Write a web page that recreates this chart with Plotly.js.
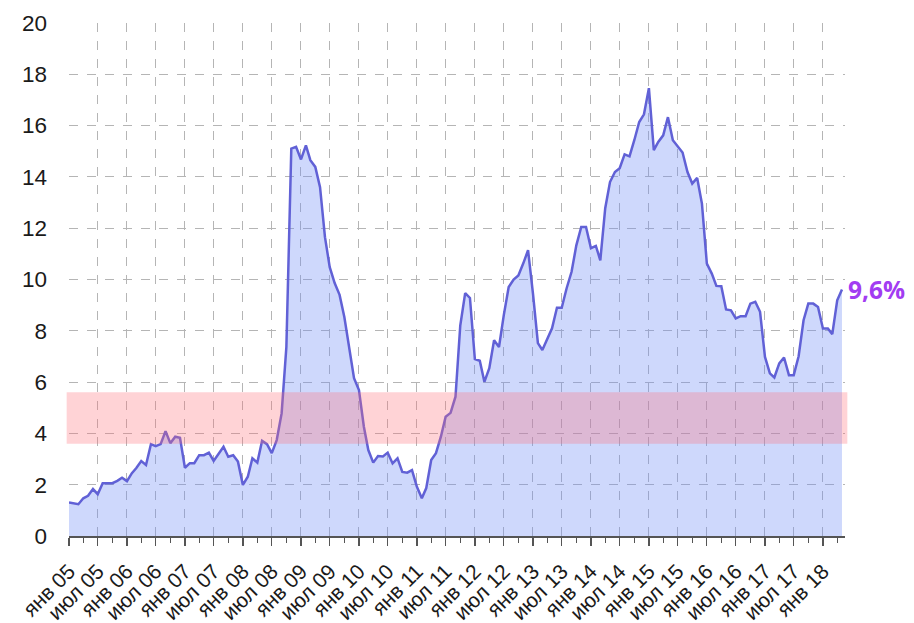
<!DOCTYPE html>
<html>
<head>
<meta charset="utf-8">
<script src="https://cdn.plot.ly/plotly-3.0.1.min.js"></script>
<style>
  html, body { margin: 0; padding: 0; background: #ffffff; }
  #chart { width: 914px; height: 623px; }
</style>
</head>
<body>
<div id="chart"></div>
<script>
// Monthly values, January 2005 .. May 2018
const startYear = 2005;
const values2005 = [1.31, 1.28, 1.24, 1.47, 1.57, 1.83, 1.63, 2.06, 2.06, 2.06, 2.15, 2.27];
const values2006 = [2.14, 2.45, 2.65, 2.92, 2.77, 3.58, 3.50, 3.58, 4.09, 3.62, 3.87, 3.83];
const values2007 = [2.66, 2.84, 2.84, 3.15, 3.15, 3.25, 2.93, 3.20, 3.48, 3.09, 3.15, 2.90];
const values2008 = [1.99, 2.31, 3.03, 2.86, 3.71, 3.58, 3.23, 3.74, 4.78, 7.37, 15.10, 15.17];
const values2009 = [14.68, 15.23, 14.65, 14.39, 13.60, 11.65, 10.48, 9.86, 9.40, 8.54, 7.37, 6.15];
const values2010 = [5.69, 4.26, 3.35, 2.86, 3.12, 3.10, 3.25, 2.83, 3.03, 2.50, 2.47, 2.57];
const values2011 = [1.92, 1.47, 1.87, 2.96, 3.23, 3.87, 4.65, 4.80, 5.43, 8.20, 9.47, 9.28];
const values2012 = [6.90, 6.83, 6.01, 6.54, 7.63, 7.37, 8.60, 9.71, 10.00, 10.16, 10.63, 11.14];
const values2013 = [9.45, 7.52, 7.25, 7.70, 8.10, 8.90, 8.90, 9.66, 10.30, 11.33, 12.05, 12.05];
const values2014 = [11.22, 11.31, 10.75, 12.78, 13.80, 14.19, 14.34, 14.88, 14.80, 15.43, 16.14, 16.44];
const values2015 = [17.46, 15.04, 15.36, 15.62, 16.33, 15.43, 15.17, 14.95, 14.19, 13.74, 13.96, 12.96];
const values2016 = [10.62, 10.23, 9.75, 9.74, 8.83, 8.80, 8.48, 8.57, 8.57, 9.06, 9.13, 8.74];
const values2017 = [6.98, 6.34, 6.18, 6.73, 6.96, 6.27, 6.27, 7.01, 8.41, 9.06, 9.06, 8.93];
const values2018 = [8.09, 8.09, 7.87, 9.19, 9.61];

const bandLow = 3.6;
const bandHigh = 5.6;
const lastLabel = "9,6%";

const tickLabels = [
  "янв 05","июл 05","янв 06","июл 06","янв 07","июл 07","янв 08","июл 08",
  "янв 09","июл 09","янв 10","июл 10","янв 11","июл 11","янв 12","июл 12",
  "янв 13","июл 13","янв 14","июл 14","янв 15","июл 15","янв 16","июл 16",
  "янв 17","июл 17","янв 18"
];

const values = [].concat(values2005, values2006, values2007, values2008, values2009,
  values2010, values2011, values2012, values2013, values2014, values2015,
  values2016, values2017, values2018);

function monthDate(i) {
  const y = startYear + Math.floor(i / 12);
  const m = (i % 12) + 1;
  return y + "-" + (m < 10 ? "0" + m : m) + "-01";
}
const dates = values.map((v, i) => monthDate(i));
const tickVals = tickLabels.map((t, k) => monthDate(k * 6));

const trace = {
  x: dates,
  y: values,
  type: "scatter",
  mode: "lines",
  line: { color: "#6161d6", width: 2.5 },
  fill: "tozeroy",
  fillcolor: "rgba(110,140,245,0.34)",
  hoverinfo: "skip"
};

const layout = {
  width: 914,
  height: 623,
  margin: { l: 69, r: 69, t: 23, b: 87 },
  paper_bgcolor: "#ffffff",
  plot_bgcolor: "#ffffff",
  showlegend: false,
  font: { family: "Liberation Sans, Arial, sans-serif", color: "#1a1a1a" },
  xaxis: {
    type: "date",
    range: ["2005-01-01", "2018-05-20"],
    tickmode: "array",
    tickvals: tickVals,
    ticktext: tickLabels,
    tickangle: -45,
    tickfont: { size: 21, color: "#1a1a1a" },
    ticks: "outside",
    ticklen: 8,
    tickwidth: 1.3,
    tickcolor: "#555555",
    ticklabelstandoff: 5,
    showline: true,
    linecolor: "#555555",
    linewidth: 1.8,
    showgrid: true,
    gridcolor: "#b5b5b5",
    griddash: "dash",
    gridwidth: 1,
    zeroline: false,
    minor: {
      tickmode: "linear",
      tick0: "2005-04-01",
      dtick: "M6",
      ticks: "outside",
      ticklen: 5,
      tickwidth: 1.3,
      tickcolor: "#555555",
      showgrid: false
    }
  },
  yaxis: {
    range: [0, 20],
    dtick: 2,
    tick0: 0,
    tickfont: { size: 22.5, color: "#1a1a1a" },
    ticks: "",
    ticklabelstandoff: 21,
    showline: false,
    showgrid: true,
    gridcolor: "#b5b5b5",
    griddash: "dash",
    gridwidth: 1,
    zeroline: false
  },
  shapes: [{
    type: "rect",
    xref: "paper",
    yref: "y",
    x0: -0.003,
    x1: 1.003,
    y0: bandLow,
    y1: bandHigh,
    fillcolor: "rgba(255,110,120,0.3)",
    line: { width: 0 },
    layer: "above"
  }],
  annotations: [{
    x: dates[dates.length - 1],
    y: values[values.length - 1],
    xref: "x",
    yref: "y",
    text: "<b>" + lastLabel + "</b>",
    showarrow: false,
    xanchor: "left",
    yanchor: "middle",
    xshift: 4,
    font: { family: "Open Sans, Noto Sans, sans-serif", size: 24.5, color: "#a23cf2" }
  }]
};

Plotly.newPlot("chart", [trace], layout, { displayModeBar: false, staticPlot: true });
</script>
</body>
</html>
